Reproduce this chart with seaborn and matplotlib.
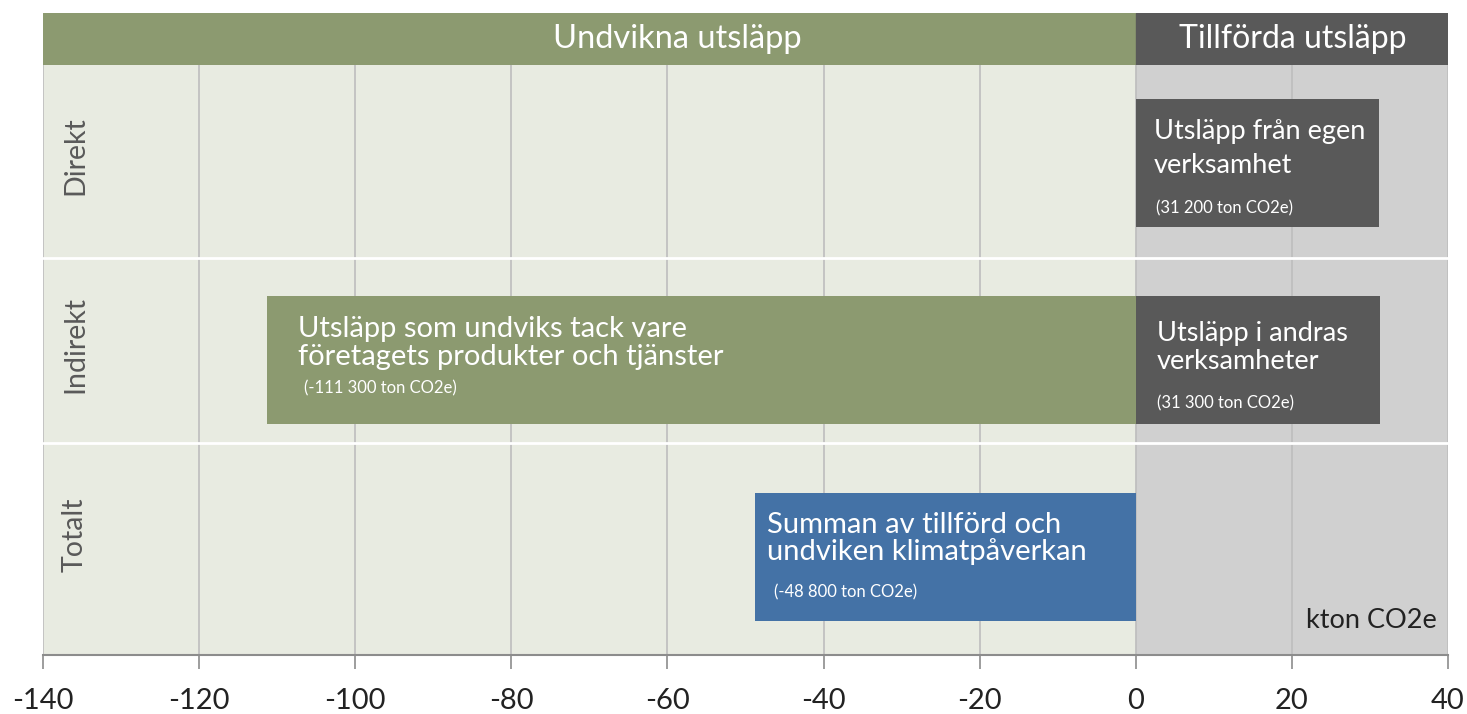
import pandas as pd
import numpy as np
import matplotlib
matplotlib.use("Agg")
import matplotlib.pyplot as plt
import seaborn as sns

sns.set_style("white")
plt.rcParams['font.family'] = ['Lato', 'DejaVu Sans']

# data (kton CO2e)
rows = ['Direkt', 'Indirekt', 'Indirekt', 'Totalt']
kinds = ['egen', 'andra', 'undviks', 'summa']
values = [31.2, 31.3, -111.3, -48.8]
bar_colors = {'egen': '#595959', 'andra': '#595959', 'undviks': '#8C9A70', 'summa': '#4472A6'}
row_order = ['Direkt', 'Indirekt', 'Totalt']
ticks = list(range(-140, 41, 20))

df = pd.DataFrame({'row': rows, 'kind': kinds, 'value': values})

W, H = 1467, 714
fig = plt.figure(figsize=(W / 100, H / 100), dpi=100)
ax = fig.add_axes([43 / W, (H - 655) / H, 1405 / W, 590 / H])
hx = fig.add_axes([43 / W, (H - 65) / H, 1405 / W, 52 / H], sharex=ax)

# backgrounds
ax.axvspan(-140, 0, color='#E8EBE1', zorder=0)
ax.axvspan(0, 40, color='#D0D0D0', zorder=0)
for t in ticks:
    ax.axvline(t, color='#BDBDBD', lw=1.2, zorder=0.5)
for y in [0.48, 1.42]:
    ax.axhline(y, color='white', lw=2, zorder=0.6)

sns.barplot(data=df, x='value', y='row', hue='kind', order=row_order,
            palette=bar_colors, dodge=False, width=0.65, orient='h',
            errorbar=None, saturation=1, legend=False, ax=ax, zorder=2,
            linewidth=0)

ax.set_xlim(-140, 40)
ax.set_ylim(2.5, -0.5)
ax.set_xticks(ticks)
ax.set_xticklabels([str(t) for t in ticks], fontsize=21, color='#222222')
ax.set_yticks([])
ax.set_xlabel('')
ax.set_ylabel('')
ax.tick_params(axis='x', length=10, width=1.2, color='#8C8C8C', pad=14, bottom=True)
for s in ['top', 'right', 'left']:
    ax.spines[s].set_visible(False)
ax.spines['bottom'].set_color('#8C8C8C')
ax.spines['bottom'].set_linewidth(1.5)

# row labels
for i, (lab, dy) in enumerate(zip(row_order, [-0.04, -0.08, -0.11])):
    ax.text(-135.9, i + dy, lab, rotation=90, ha='center', va='center',
            fontsize=20.5, color='#595959')

# bar texts
big = dict(color='white', fontsize=19.5, va='center', ha='left', zorder=3)
big2 = dict(color='white', fontsize=21, va='center', ha='left', zorder=3)
small = dict(color='white', fontsize=12, va='center', ha='left', zorder=3)
ax.text(2.3, 0 - 0.16, 'Utsläpp från egen', **big)
ax.text(2.3, 0 + 0.013, 'verksamhet', **big)
ax.text(2.6, 0 + 0.23, '(31 200 ton CO2e)', **small)

ax.text(-107.3, 1 - 0.158, 'Utsläpp som undviks tack vare', **big2)
ax.text(-107.3, 1 - 0.015, 'företagets produkter och tjänster', **big2)
ax.text(-106.5, 1 + 0.142, '(-111 300 ton CO2e)', **small)

ax.text(2.7, 1 - 0.137, 'Utsläpp i andras', **big)
ax.text(2.7, 1 + 0.01, 'verksamheter', **big)
ax.text(2.7, 1 + 0.22, '(31 300 ton CO2e)', **small)

ax.text(-47.3, 2 - 0.163, 'Summan av tillförd och', **big2)
ax.text(-47.3, 2 - 0.025, 'undviken klimatpåverkan', **big2)
ax.text(-46.3, 2 + 0.18, '(-48 800 ton CO2e)', **small)

ax.text(38.6, 2 + 0.325, 'kton CO2e', ha='right', va='center', fontsize=19.5, color='#222222')

# header band
hx.axvspan(-140, 0, color='#8C9A70')
hx.axvspan(0, 40, color='#595959')
hx.set_ylim(0, 1)
hx.axis('off')
hx.text(-58.7, 0.5, 'Undvikna utsläpp', ha='center', va='center', color='white',
        fontsize=23.5)
hx.text(20.1, 0.5, 'Tillförda utsläpp', ha='center', va='center', color='white',
        fontsize=23)

fig.savefig('out.png', dpi=100)
